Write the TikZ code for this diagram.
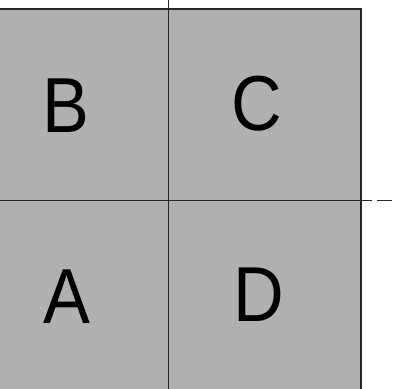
\documentclass[tikz,border=0pt]{standalone}
\usepackage{fontspec}
\setmainfont{Liberation Sans}
\begin{document}
\begin{tikzpicture}[x=1pt,y=1pt,
  letter/.style={font=\fontsize{78}{78}\selectfont, text=black, inner sep=0pt, xscale=0.9},
  rule/.style={draw=black!85, line width=0.9pt}]
\useasboundingbox (0,0) rectangle (396,388);
\fill[white] (0,0) rectangle (396,388);
\fill[gray!62] (-2,-2) rectangle (361,379);
\draw[rule, line width=1.2pt] (-2,379) -- (361,379) -- (361,-2);
\coordinate (vt) at (168,388);
\coordinate (vb) at (168,-2);
\coordinate (hl) at (-2,188);
\coordinate (hr) at (372,188);
\coordinate (d1) at (377,188);
\coordinate (d2) at (392,188);
\draw[rule] (vt) -- (vb);
\draw[rule] (hl) -- (hr);
\draw[rule] (d1) -- (d2);
\node[letter] (B) at (66,282) {B};
\node[letter] (C) at (257,284) {C};
\node[letter] (A) at (67,91) {A};
\node[letter] (D) at (259,93) {D};
\end{tikzpicture}
\end{document}
